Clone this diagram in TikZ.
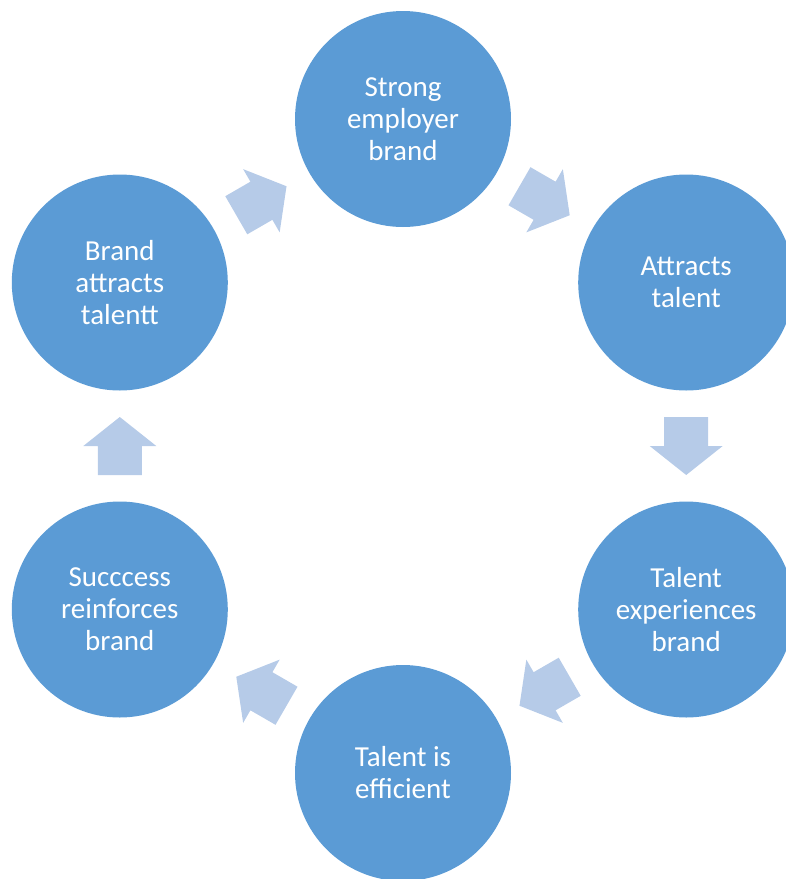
\documentclass[tikz,border=0pt]{standalone}
\usepackage{fontspec}
\setmainfont{Carlito}
\usetikzlibrary{calc}
\definecolor{circfill}{HTML}{5B9BD5}
\definecolor{arrfill}{HTML}{B6CBE8}
\tikzset{
  cyc/.style={circle, fill=circfill, draw=none, minimum size=216pt, inner sep=0pt,
    text=white, align=center, font=\fontsize{29}{32}\selectfont},
  arr/.style={fill=arrfill, draw=none}
}
\newcommand\cycarrow[2]{%
  \coordinate (m) at ($(#1)!0.5!(#2)$);
  \coordinate (t) at ($(m)!-29pt!(#2)$);
  \fill[arr] ($(t)!22pt!90:(#2)$) -- ($(m)!22pt!90:(#2)$) -- ($(m)!36.5pt!90:(#2)$)
    -- ($(m)!29pt!(#2)$) -- ($(m)!36.5pt!-90:(#2)$) -- ($(m)!22pt!-90:(#2)$)
    -- ($(t)!22pt!-90:(#2)$) -- cycle;
}
\begin{document}
\begin{tikzpicture}[x=1pt, y=-1pt]
\useasboundingbox (0,0) rectangle (786,879);
\node[cyc] (top) at (403,119) {Strong\\employer\\brand};
\node[cyc] (tr) at (686.2,282.5) {Attracts\\talent};
\node[cyc] (br) at (686.2,609.5) {Talent\\experiences\\brand};
\node[cyc] (bot) at (403,773) {Talent is\\efficient};
\node[cyc] (bl) at (119.8,609.5) {Succcess\\reinforces\\brand};
\node[cyc] (tl) at (119.8,282.5) {Brand\\attracts\\talentt};
\cycarrow{top}{tr}
\cycarrow{tr}{br}
\cycarrow{br}{bot}
\cycarrow{bot}{bl}
\cycarrow{bl}{tl}
\cycarrow{tl}{top}
\end{tikzpicture}
\end{document}
